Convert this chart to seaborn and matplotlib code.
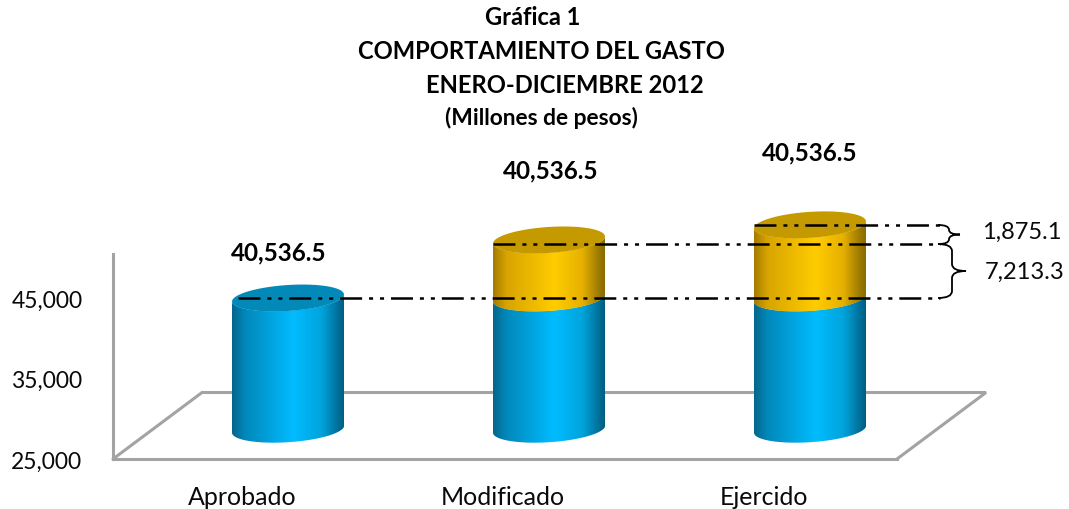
import numpy as np
import pandas as pd
import matplotlib
matplotlib.use("Agg")
import matplotlib.pyplot as plt
import seaborn as sns
from matplotlib.path import Path
from matplotlib.patches import PathPatch
from matplotlib.colors import LinearSegmentedColormap

# ---- data
categories = ["Aprobado", "Modificado", "Ejercido"]
blue_top = [45000, 45000, 45000]          # height on the drawn axis
increment_1 = [0, 7213.3, 7213.3]
increment_2 = [0, 0, 1875.1]
bar_floor = 28700
ref_levels = [45000, 51700, 54070]        # dash-dot guide lines as drawn
bar_labels = ["40,536.5", "40,536.5", "40,536.5"]
y_ticks = [25000, 35000, 45000]
y_tick_labels = ["25,000", "35,000", "45,000"]
diff_labels = ["1,875.1", "7,213.3"]
title_lines = ["Gráfica 1", "COMPORTAMIENTO DEL GASTO", "ENERO-DICIEMBRE 2012"]
subtitle = "(Millones de pesos)"

sns.set_theme(style="white")
plt.rcParams["font.family"] = ["Lato", "DejaVu Sans"]
plt.rcParams["lines.scale_dashes"] = False

W, H = 1069, 510
fig = plt.figure(figsize=(W / 100, H / 100), dpi=100)
ax = fig.add_axes([0, 0, 1, 1])
ax.patch.set_alpha(0)

PX = 0.00805
X = lambda p: (p - 288) / 261
Y = lambda p: 25000 + (460 - p) / PX
DX = lambda p: p / 261
DY = lambda p: p / PX

gold_top = [a + b + c for a, b, c in zip(blue_top, increment_1, increment_2)]
df = pd.DataFrame({"categoria": categories, "azul": blue_top, "oro": gold_top})
df["alto_azul"] = df["azul"] - bar_floor
df["alto_oro"] = df["oro"] - df["azul"]

BLUE, GOLD = "#00b4f5", "#f0bd00"
sns.barplot(data=df, x="categoria", y="alto_azul", bottom=bar_floor, width=112 / 261,
            color=BLUE, saturation=1, ax=ax, zorder=3, errorbar=None)
n_blue = len(ax.patches)
sns.barplot(data=df, x="categoria", y="alto_oro", bottom=df["azul"].values, width=112 / 261,
            color=GOLD, saturation=1, ax=ax, zorder=3, errorbar=None)
bars = list(ax.patches)

cm_blue = LinearSegmentedColormap.from_list("b", [(0, "#04668c"), (.12, "#0288bb"), (.55, "#00bcff"),
                                                  (.8, "#00a4dc"), (.95, "#006f98"), (1, "#005f80")])
cm_gold = LinearSegmentedColormap.from_list("g", [(0, "#a47c00"), (.12, "#d8a400"), (.55, "#ffcc00"),
                                                  (.8, "#e6b000"), (.95, "#9a7800"), (1, "#8a6c00")])
grad = np.linspace(0, 1, 256).reshape(1, -1)

B_MINOR, SHEAR = 13.0, 3.5   # ellipse semi-minor and tilt, px


def arc(cx, cy, half, t0, t1):
    t = np.linspace(t0, t1, 60)
    x = cx + half * np.cos(t)
    y = cy + DY(B_MINOR) * np.sin(t) + DY(SHEAR) * np.cos(t)
    return np.column_stack([x, y])


def body(cx, half, y0, y1, cmap, z):
    low = arc(cx, y0, half, np.pi, 2 * np.pi)
    up = arc(cx, y1, half, 2 * np.pi, np.pi)
    path = Path(np.vstack([low, up, low[:1]]))
    im = ax.imshow(grad, extent=(cx - half, cx + half, y0 - DY(20), y1 + DY(20)),
                   aspect="auto", cmap=cmap, zorder=z, interpolation="bilinear")
    im.set_clip_path(path, ax.transData)
    return path


for i, b in enumerate(bars[:n_blue]):
    cx = b.get_x() + b.get_width() / 2
    half = b.get_width() / 2
    p = body(cx, half, b.get_y(), b.get_y() + b.get_height(), cm_blue, 4)
    b.set_clip_path(p, ax.transData)
for i, b in enumerate(bars[n_blue:]):
    cx = b.get_x() + b.get_width() / 2
    half = b.get_width() / 2
    if b.get_height() > 0:
        p = body(cx, half, b.get_y(), b.get_y() + b.get_height(), cm_gold, 5)
        b.set_clip_path(p, ax.transData)
    else:
        b.set_visible(False)
    top = b.get_y() + b.get_height()
    ring = arc(cx, top, half, 0, 2 * np.pi)
    ax.add_patch(PathPatch(Path(ring), fc="#c49a00" if b.get_height() > 0 else "#0389b8",
                           ec="none", zorder=6))

# ---- axes
ax.set_xlim(X(0), X(W))
ax.set_ylim(Y(H), Y(0))
GRAY = "#a3a3a3"
LW = 2.2
for s in ["top", "right"]:
    ax.spines[s].set_visible(False)
ax.spines["left"].set_position(("data", X(113)))
ax.spines["left"].set_bounds(25000, Y(255))
ax.spines["bottom"].set_position(("data", 25000))
ax.spines["bottom"].set_bounds(X(113), X(897))
for s in ["left", "bottom"]:
    ax.spines[s].set_color(GRAY)
    ax.spines[s].set_linewidth(LW)
ax.set_yticks(y_ticks, y_tick_labels)
ax.set_xticks(np.arange(3) - 46 / 261, categories)
ax.tick_params(axis="y", length=0, pad=22, labelsize=16.5, labelcolor="#0a0a0a")
ax.tick_params(axis="x", length=0, pad=19, labelsize=18, labelcolor="#0a0a0a")
ax.set_xlabel("")
ax.set_ylabel("")

# ---- floor
floor_dx, floor_dy = DX(89), DY(66.5)
x_l, x_r = X(113), X(897)
ax.plot([x_l, x_l + floor_dx, x_r + floor_dx, x_r],
        [25000, 25000 + floor_dy, 25000 + floor_dy, 25000],
        color=GRAY, lw=LW, zorder=2, solid_joinstyle="miter")

# ---- reference lines
dash = (0, (15.8, 5, 2.9, 5, 2.9, 5))
line_start = [-50 / 261, 1 - 56 / 261, 2 - 56 / 261]
for x0, lev in zip(line_start, ref_levels):
    ax.plot([x0, X(940)], [lev, lev], color="black", lw=1.8, ls=dash, zorder=7, dash_capstyle="butt")


def brace(y_top, y_bot, x0, xm, xt):
    ym = (y_top + y_bot) / 2
    r = min(DY(7), (y_top - y_bot) / 4)
    v = [(X(x0), y_top), (X(xm), y_top), (X(xm), y_top - r),
         (X(xm), ym + r), (X(xm), ym), (X(xt), ym),
         (X(xm), ym), (X(xm), ym - r),
         (X(xm), y_bot + r), (X(xm), y_bot), (X(x0), y_bot)]
    c = [Path.MOVETO, Path.CURVE3, Path.CURVE3,
         Path.LINETO, Path.CURVE3, Path.CURVE3,
         Path.CURVE3, Path.CURVE3,
         Path.LINETO, Path.CURVE3, Path.CURVE3]
    ax.add_patch(PathPatch(Path(v, c), fc="none", ec="black", lw=1.3, zorder=7))


brace(ref_levels[2], ref_levels[1], 938, 949, 960)
brace(ref_levels[1], ref_levels[0], 938, 952, 966)

# ---- text
label_x = [279, 551, 810]
label_y = [253, 171, 153]
for lab, lx, ly in zip(bar_labels, label_x, label_y):
    ax.text(X(lx), Y(ly), lab, ha="center", va="center", fontsize=17.5, fontweight="bold", color="black", zorder=8)
ax.text(X(1022), Y(232), diff_labels[0], ha="center", va="center", fontsize=17, color="#0a0a0a")
ax.text(X(1025), Y(272), diff_labels[1], ha="center", va="center", fontsize=17, color="#0a0a0a")

title_x = [533, 541, 565]
title_y = [17, 52, 86]
for t, tx, ty in zip(title_lines, title_x, title_y):
    ax.text(X(tx), Y(ty), t, ha="center", va="center", fontsize=17.1, fontweight="bold", color="black")
ax.text(X(541), Y(118), subtitle, ha="center", va="center", fontsize=16.4, fontweight="bold", color="black")

fig.savefig("out.png", dpi=100, facecolor="white")
